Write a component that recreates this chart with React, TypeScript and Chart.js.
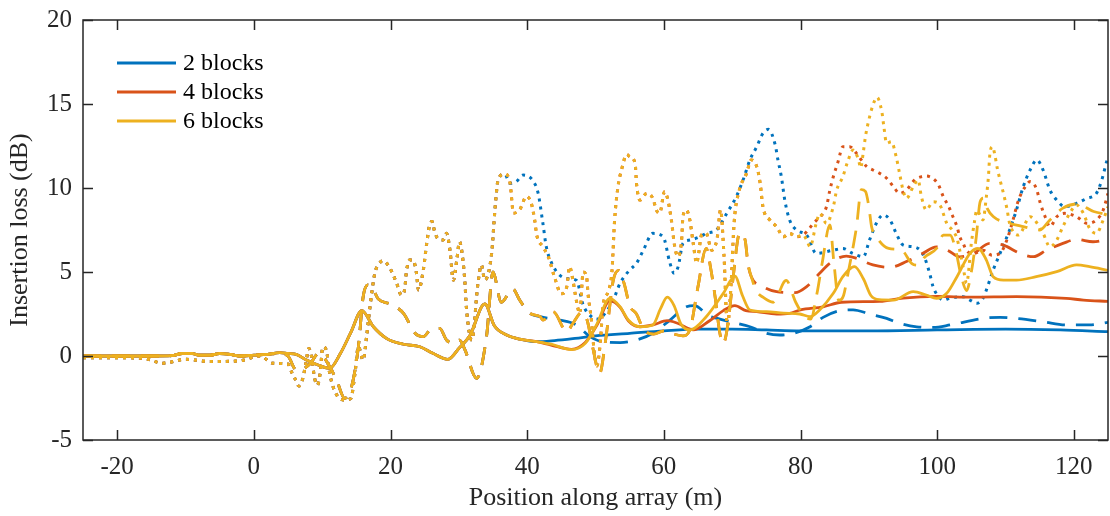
import React, { useEffect, useRef } from 'react';
import { Chart, registerables } from 'chart.js';

Chart.register(...registerables);

type Pt = [number, number];

// ---------- axis / legend text ----------
const xTickValues = [-20, 0, 20, 40, 60, 80, 100, 120];
const yTickValues = [-5, 0, 5, 10, 15, 20];
const legendLabels = ['2 blocks', '4 blocks', '6 blocks'];
const xTitle = 'Position along array (m)';
const yTitle = 'Insertion loss (dB)';

// ---------- solid curves ----------
const solidShared: Pt[] = [
  [-25, 0], [-15, 0], [-12, 0.02], [-10.5, 0.15], [-9, 0.15], [-8, 0.05], [-6.4, 0.05], [-5, 0.15],
  [-3.5, 0.1], [-2, 0], [0, 0.05], [2, 0.1], [3.8, 0.2], [5, 0.15], [6.2, 0.1], [7.7, -0.24],
  [9.5, -0.55], [11.1, -0.73], [12.6, 0.1], [14.2, 1.4], [15.8, 2.7], [17.5, 1.74], [19.4, 1.05],
  [21.9, 0.7], [24.3, 0.55], [26.2, 0.16], [28.4, -0.2], [30.1, 0.5], [31.6, 1.2], [33.8, 3.1],
  [35.2, 1.8], [37, 1.25], [38.9, 1.0], [41.4, 0.85],
];
const blueSolidLate: Pt[] = [
  [44, 0.92], [47, 1.05], [50, 1.2], [55, 1.35], [60, 1.5], [65, 1.6], [70, 1.6], [75, 1.55],
  [80, 1.5], [90, 1.5], [100, 1.55], [110, 1.6], [118, 1.55], [125, 1.45],
];
const orangeSolidLate: Pt[] = [
  [43.5, 0.65], [46.5, 0.4], [48.5, 0.8], [50.3, 1.9], [52.1, 3.3], [53.6, 2.9], [54.8, 2.1],
  [56.5, 1.74], [58.4, 1.85], [60.5, 2.1], [62, 1.95], [64.3, 1.55], [66.7, 2.1], [68.7, 2.7],
  [70.4, 3.0], [72, 2.7], [73.6, 2.64], [76.5, 2.5], [78.4, 2.54], [80, 2.75], [83.3, 2.93],
  [86, 3.2], [91.6, 3.25], [95, 3.45], [100, 3.55], [105, 3.5], [111.6, 3.53], [118.9, 3.43],
  [121.4, 3.33], [125, 3.25],
];
const yellowSolidLate: Pt[] = [
  [43.5, 0.7], [46.5, 0.38], [48.5, 0.75], [50.2, 1.9], [52.1, 3.43], [53.6, 2.93], [54.8, 2.14],
  [56.5, 1.74], [58.4, 1.85], [59.5, 2.8], [60.5, 3.5], [61.5, 3.0], [62.5, 1.9], [63.8, 1.55],
  [66.2, 2.34], [68.7, 3.73], [70.4, 4.76], [71.5, 3.6], [72.6, 2.74], [75, 2.64], [77.5, 2.55],
  [79.9, 2.5], [81.4, 2.34], [82.8, 2.74], [84.8, 3.73], [86.2, 4.72], [87.9, 5.32], [89.2, 4.6],
  [90.3, 3.6], [91.5, 3.35], [93.6, 3.33], [96.5, 3.83], [98.4, 3.63], [99.9, 3.43], [101.4, 3.73],
  [102.9, 4.72], [104.8, 6.11], [106, 6.4], [107.2, 5.71], [108.2, 4.72], [109.7, 4.52],
  [111.6, 4.52], [114.5, 4.72], [117.5, 5.02], [120.4, 5.42], [122.3, 5.32], [125, 5.1],
];

// ---------- dashed curves ----------
const dashedShared: Pt[] = [
  [-25, 0], [-15, 0], [-12, 0.02], [-10.5, 0.15], [-9, 0.15], [-8, 0.05], [-6.4, 0.05], [-5, 0.15],
  [-3.5, 0.1], [-2, 0], [0, 0.05], [2, 0.1], [3.8, 0.15], [5, 0.0], [6.2, -0.83], [7, -0.8],
  [8.2, -0.48], [9.5, 0.16], [11.1, -0.63], [12.1, -1.43], [13.3, -2.52], [14.3, -1.83], [15.3, 0.55],
  [16, 3.53], [16.7, 4.23], [17.5, 3.93], [18.2, 3.4], [19.9, 3.1], [21.9, 2.54], [23.6, 1.35],
  [24.8, 1.15], [25.8, 1.55], [27.2, 1.65], [28.2, 0.95], [29.2, 0.75], [30.1, 0.95], [30.9, 0.36],
  [32.6, -1.33], [34.05, 1.15], [35, 5.0], [36.2, 3.2], [37.9, 4.0], [38.9, 3.33], [40.4, 2.54],
  [41.9, 2.34],
];
const blueDashedLate: Pt[] = [
  [44.8, 2.14], [47.2, 1.85], [49.2, 1.15], [51, 0.85], [53.6, 0.8], [56, 0.95], [58.4, 1.35],
  [60.9, 2.14], [63.3, 2.93], [64.5, 3.0], [66.5, 2.4], [68.2, 2.2], [70.1, 2.0], [72.6, 1.74],
  [75, 1.35], [77, 1.25], [79, 1.35], [81.4, 1.74], [83.3, 2.3], [85.8, 2.7], [87.7, 2.75],
  [90.1, 2.5], [92.6, 2.24], [94.5, 1.95], [97, 1.74], [99.4, 1.7], [101.9, 1.85], [106.7, 2.24],
  [109.2, 2.3], [111.6, 2.24], [115.5, 2.04], [118.9, 1.85], [122.3, 1.85], [125, 2.0],
];
const dashedOrangeYellowMid: Pt[] = [
  [42.3, 2.14], [43.8, 2.64], [45.8, 1.45], [46.7, 1.95], [48, 2.6], [48.8, 2.1], [49.6, 0.5],
  [50.6, -1.03], [51.5, 1.0], [52.6, 4.5], [53.4, 5.1], [54.2, 4.3], [55, 3.0], [56, 2.5], [57, 1.6],
  [58.5, 1.3], [60, 1.5], [61.5, 1.3], [62.8, 1.2], [63.8, 1.55], [65, 4.13], [66.2, 6.41],
  [66.9, 5.12], [67.5, 3.53], [68.2, 1.35], [68.7, 0.75], [69.4, 1.95], [70.1, 4.52], [71.1, 7.3],
  [71.9, 6.9], [72.3, 5.52], [72.8, 4.72],
];
const orangeDashedLate: Pt[] = [
  [74.5, 4.13], [76.5, 3.83], [79.2, 3.77], [80.9, 4.13], [82.8, 4.92], [84.3, 5.52], [86.7, 5.95],
  [88.2, 5.81], [90.6, 5.42], [93.1, 5.28], [95.5, 5.62], [97.9, 6.11], [99.9, 6.5], [101.5, 6.3],
  [103.3, 5.9], [105.3, 6.1], [107.7, 6.7], [109.7, 6.6], [112.1, 6.11], [114.1, 5.91], [116, 6.3],
  [118.4, 6.7], [120.4, 6.94], [122.8, 6.8], [125, 6.95],
];
const yellowDashedLate: Pt[] = [
  [73.5, 3.9], [74.5, 3.5], [76, 3.2], [77.9, 4.5], [79.3, 3.2], [80.5, 2.4], [81.5, 2.2],
  [82.4, 3.7], [83.2, 5.6], [84.3, 7.8], [84.9, 5.5], [85.6, 3.3], [86.3, 3.6], [86.9, 4.8],
  [87.7, 6.5], [88.2, 7.7], [88.9, 9.9], [89.5, 9.8], [90, 8.9], [90.4, 7.7], [91.1, 7.1],
  [92.9, 6.4], [94.8, 6.3], [96.3, 5.5], [97.2, 5.4], [98.2, 5.9], [99.9, 6.4], [100.9, 7.2],
  [101.9, 7.2], [102.6, 6.5], [103.5, 4.8], [104.3, 3.9], [105, 5.0], [105.7, 7.0], [106.3, 9.2],
  [106.8, 9.4], [107.3, 8.8], [108.2, 8.3], [110.6, 7.9], [112.6, 7.7], [115, 7.5], [116.5, 8.1],
  [118.4, 8.8], [120.4, 9.05], [122.9, 8.6], [125, 8.4],
];

// ---------- dotted curves ----------
const dottedShared: Pt[] = [
  [-25, -0.1], [-20, -0.1], [-16, -0.15], [-13.3, -0.43], [-10, -0.2], [-6.4, -0.33], [-2, -0.28],
  [0.9, 0], [2.8, -0.43], [5, -0.48], [5.5, -0.93], [6, -1.33], [6.6, -1.79], [7.1, -1.43],
  [7.6, -0.48], [8.05, 0.45], [8.4, 0.06], [8.9, -1.33], [9.3, -1.73], [9.7, -1.03], [10.1, 0.55],
  [10.6, 0.36], [11.1, -1.03], [11.6, -1.83], [12.3, -2.42], [13.3, -2.62], [14.2, -2.52],
  [14.8, -1.03], [15.3, 0.55], [16, -0.24], [16.5, 1.15], [17, 2.93], [17.7, 4.92], [18.2, 5.42],
  [18.9, 5.67], [19.8, 5.32], [20.4, 4.82], [20.9, 4.33], [21.6, 3.63], [22.1, 4.03], [22.3, 4.92],
  [22.8, 5.71], [23.3, 5.71], [23.8, 4.92], [24.1, 3.93], [24.8, 5.12], [25.3, 6.71], [25.8, 7.9],
  [26.1, 8.0], [26.4, 7.5], [26.9, 7.0], [27.7, 6.9], [28.2, 7.3], [28.7, 6.3], [29.2, 4.52],
  [29.7, 5.71], [30.1, 6.8], [30.6, 5.71], [30.9, 4.33], [31.1, 2.93], [31.9, 0.95], [32.8, 4.33],
  [33.3, 5.42], [33.8, 4.52], [34.8, 6.1], [35.3, 8.79], [35.75, 10.48], [36.7, 10.83], [37.5, 10.28],
];
const blueDottedLate: Pt[] = [
  [38.4, 10.38], [39.4, 10.77], [40.9, 10.4], [41.6, 9.7], [42.3, 7.9], [42.8, 6.5], [43.6, 5.52],
  [44.8, 4.8], [46, 4.6], [47.2, 4.5], [48.2, 3.03], [49.4, 2.34], [50.5, 2.2], [51.5, 2.6],
  [52.6, 3.33], [53.6, 4.33], [55, 5.12], [56, 5.52], [57, 6.3], [58.4, 7.3], [59.9, 7.1],
  [60.9, 5.52], [61.5, 4.92], [62.1, 5.32], [62.8, 6.71], [63.8, 6.9], [65.3, 7.1], [66.2, 7.3],
  [67.7, 7.5], [69.2, 8.49], [70.6, 9.48], [71.6, 10.48], [72.6, 11.67], [73.6, 12.46], [74.5, 13.25],
  [75.3, 13.49], [76.3, 12.56], [76.7, 11.67], [77.2, 10.67], [77.7, 9.28], [78.4, 8.1], [79.4, 7.5],
  [80.9, 7.2], [82.3, 6.11], [84.8, 6.3], [86.2, 6.4], [87.7, 6.1], [89.2, 5.91], [90.1, 6.9],
  [91.1, 7.9], [92.1, 8.39], [93.1, 8.1], [94, 7.3], [95, 6.61], [96.5, 6.5], [97.5, 6.3],
  [98.2, 5.81], [98.9, 4.92], [99.4, 4.13], [100.2, 3.53], [100.9, 3.33], [101.9, 3.45], [103.8, 3.53],
  [104.8, 3.33], [105.8, 3.14], [106.7, 3.43], [107.2, 3.93], [108.2, 5.12], [109.2, 6.11],
  [110.6, 7.5], [111.6, 8.69], [112.6, 10.08], [113.6, 11.07], [114.6, 11.67], [115.5, 11.07],
  [116.5, 9.88], [117.5, 9.28], [118.7, 8.89], [120.4, 9.09], [121.9, 9.38], [123.3, 9.68],
  [124.1, 10.48], [124.8, 11.57], [125, 11.8],
];
const dottedOrangeYellowMid: Pt[] = [
  [38, 8.5], [38.9, 8.7], [39.9, 9.5], [40.6, 9.1], [41.1, 8.1], [41.4, 7.2], [42.3, 6.5], [43.1, 5.9],
  [44, 4.7], [45, 3.7], [45.8, 4.13], [46.2, 5.32], [46.7, 4.5], [47.2, 3.3], [47.7, 2.54], [48.2, 5.0],
  [48.7, 4.72], [48.9, 3.73], [49.4, 2.14], [49.8, 0.3], [50.2, -0.6], [50.7, 0.8], [51.1, 3.0],
  [51.8, 3.8], [52.4, 5.0], [52.8, 8.1], [53.3, 10.1], [53.8, 11.07], [54.6, 12.0], [55, 11.86],
  [55.8, 11.47], [56, 10.28], [56.5, 9.28], [57.5, 9.68], [58.4, 9.38], [58.9, 8.69], [59.4, 8.5],
  [60.1, 9.78], [60.6, 9.28], [61.1, 8.1], [61.6, 6.5], [62.1, 5.91], [62.6, 6.9], [62.8, 8.29],
  [63.3, 8.69], [63.8, 8.1], [64.3, 6.71], [64.8, 5.52], [65.1, 6.11], [65.5, 7.2], [66.2, 7.3],
  [67, 6.3], [67.8, 7.0], [68.3, 8.7], [68.8, 6.0], [69.3, 1.8], [69.8, 4.0], [70.3, 8.0], [71, 9.8],
  [72.1, 10.87], [72.8, 11.67], [73.6, 11.27], [74.1, 10.28], [74.5, 8.89], [75.5, 8.1], [76.5, 7.7],
  [77.5, 7.1], [78.4, 7.3], [79.4, 7.1], [80.4, 7.2],
];
const orangeDottedLate: Pt[] = [
  [80.9, 7.4], [81.9, 7.9], [83.3, 8.49], [83.8, 8.89], [84.3, 9.88], [84.8, 10.67], [85.5, 11.57],
  [86.2, 12.46], [87.2, 12.46], [88.2, 12.06], [88.9, 11.67], [89.7, 11.27], [90.6, 11.07],
  [91.6, 10.87], [92.6, 10.58], [93.6, 10.08], [94.5, 9.68], [95.5, 9.88], [96.7, 10.48],
  [97.7, 10.67], [98.4, 10.71], [99.4, 10.56], [100.2, 10.18], [100.9, 9.48], [101.7, 8.89],
  [102.2, 8.39], [102.9, 7.7], [103.3, 7.1], [103.8, 6.71], [104.3, 6.27], [105.3, 6.1], [106.7, 6.3],
  [108, 6.0], [109.2, 6.11], [110.2, 6.9], [111.1, 8.1], [111.9, 9.28], [112.9, 10.08], [113.6, 10.38],
  [114.5, 9.98], [115.1, 9.09], [115.8, 8.29], [116.5, 7.7], [117.5, 8.29], [118.7, 8.49],
  [120.4, 8.29], [121.9, 7.9], [123.3, 8.1], [124.3, 8.69], [125, 9.68],
];
const yellowDottedLate: Pt[] = [
  [80.9, 6.9], [81.4, 6.5], [82.3, 7.9], [82.8, 8.49], [83.8, 7.9], [84.8, 8.89], [85.3, 9.88],
  [86.2, 10.67], [86.9, 11.57], [87.7, 12.26], [88.5, 11.67], [88.8, 11.2], [89.2, 12.16],
  [89.5, 13.05], [90, 14.05], [90.6, 14.94], [91.2, 15.4], [91.9, 14.54], [92.2, 13.65], [92.6, 12.66],
  [93.3, 12.76], [94, 11.86], [94.5, 10.87], [95, 9.88], [95.5, 9.38], [96.5, 10.08], [97.2, 10.48],
  [97.7, 9.48], [98.4, 8.69], [99.4, 9.18], [100.4, 8.99], [101.4, 7.9], [102.2, 7.5], [102.9, 7.0],
  [103.3, 6.3], [103.8, 5.3], [104.3, 4.33], [105, 6.71], [105.5, 8.1], [105.8, 8.69], [106.7, 8.1],
  [107.2, 9.48], [107.5, 10.67], [107.7, 11.96], [108.1, 12.46], [108.4, 12.06], [108.8, 11.17],
  [109.2, 10.48], [109.7, 9.68], [110.2, 8.79], [110.6, 7.9], [111.9, 7.2], [113.6, 8.29], [115.5, 7.3],
  [116.5, 6.5], [117.5, 6.9], [118.4, 7.7], [119.4, 8.49], [120.4, 8.99], [121.4, 8.49], [122.3, 7.6],
  [123.3, 7.3], [124.3, 8.1], [125, 8.89],
];

// ---------- styles ----------
const BLUE = '#0072BD';
const ORANGE = '#D95319';
const YELLOW = '#EDB120';
const seriesColors = [BLUE, ORANGE, YELLOW];
const AXIS_COLOR = '#262626';
const FONT = "'Liberation Serif', 'Times New Roman', serif";
const SOLID: number[] = [];
const DASHED = [18, 11];
const DOTTED = [3, 5];

const toXY = (pts: Pt[]) => pts.map(([x, y]) => ({ x, y }));

const seriesDefs = [
  { color: BLUE, dash: SOLID, pts: [...solidShared, ...blueSolidLate] },
  { color: BLUE, dash: DASHED, pts: [...dashedShared, ...blueDashedLate] },
  { color: BLUE, dash: DOTTED, pts: [...dottedShared, ...blueDottedLate] },
  { color: ORANGE, dash: SOLID, pts: [...solidShared, ...orangeSolidLate] },
  { color: ORANGE, dash: DASHED, pts: [...dashedShared, ...dashedOrangeYellowMid, ...orangeDashedLate] },
  { color: ORANGE, dash: DOTTED, pts: [...dottedShared, ...dottedOrangeYellowMid, ...orangeDottedLate] },
  { color: YELLOW, dash: SOLID, pts: [...solidShared, ...yellowSolidLate] },
  { color: YELLOW, dash: DASHED, pts: [...dashedShared, ...dashedOrangeYellowMid, ...yellowDashedLate] },
  { color: YELLOW, dash: DOTTED, pts: [...dottedShared, ...dottedOrangeYellowMid, ...yellowDottedLate] },
];

const TICK_LEN = 10;

const framePlugin = {
  id: 'matlabFrame',
  afterDatasetsDraw(chart: any) {
    const { ctx, chartArea } = chart;
    const { left, right, top, bottom } = chartArea;
    const xs = chart.scales.x;
    const ys = chart.scales.y;
    ctx.save();
    ctx.strokeStyle = AXIS_COLOR;
    ctx.lineWidth = 1.5;
    ctx.setLineDash([]);
    ctx.strokeRect(left, top, right - left, bottom - top);
    ctx.beginPath();
    for (const v of xTickValues) {
      const px = Math.round(xs.getPixelForValue(v)) + 0.5;
      ctx.moveTo(px, bottom);
      ctx.lineTo(px, bottom - TICK_LEN);
      ctx.moveTo(px, top);
      ctx.lineTo(px, top + TICK_LEN);
    }
    for (const v of yTickValues) {
      const py = Math.round(ys.getPixelForValue(v)) + 0.5;
      ctx.moveTo(left, py);
      ctx.lineTo(left + TICK_LEN, py);
      ctx.moveTo(right, py);
      ctx.lineTo(right - TICK_LEN, py);
    }
    ctx.stroke();

    // legend (inside axes, top-left, no box)
    const lx0 = left + 34;
    const lx1 = left + 93;
    const tx = left + 100;
    const rowY = [top + 43, top + 72, top + 101];
    ctx.font = `24px ${FONT}`;
    ctx.textBaseline = 'middle';
    ctx.textAlign = 'left';
    legendLabels.forEach((label, i) => {
      ctx.strokeStyle = seriesColors[i];
      ctx.lineWidth = 2.8;
      ctx.beginPath();
      ctx.moveTo(lx0, rowY[i]);
      ctx.lineTo(lx1, rowY[i]);
      ctx.stroke();
      ctx.fillStyle = '#000000';
      ctx.fillText(label, tx, rowY[i] + 1);
    });
    ctx.restore();
  },
};

export default function App() {
  const canvasRef = useRef<HTMLCanvasElement | null>(null);

  useEffect(() => {
    document.body.style.margin = '0';
    const canvas = canvasRef.current;
    if (!canvas) return;
    const chart = new Chart(canvas, {
      type: 'line',
      data: {
        datasets: seriesDefs.map((s, i) => ({
          label: `series ${i}`,
          data: toXY(s.pts),
          borderColor: s.color,
          backgroundColor: s.color,
          borderWidth: s.dash === DOTTED ? 3 : 2.8,
          borderDash: s.dash,
          borderCapStyle: 'butt' as const,
          pointRadius: 0,
          fill: false,
          cubicInterpolationMode: 'monotone' as const,
          order: seriesDefs.length - i,
        })),
      },
      options: {
        responsive: false,
        animation: false,
        devicePixelRatio: 1,
        parsing: false,
        layout: { padding: { left: 0, top: 20, right: 2, bottom: 0 } },
        plugins: {
          legend: { display: false },
          tooltip: { enabled: false },
        },
        scales: {
          x: {
            type: 'linear',
            min: -25,
            max: 125,
            grid: { display: false, drawTicks: false },
            border: { display: false },
            afterBuildTicks: (scale: any) => {
              scale.ticks = xTickValues.map((v) => ({ value: v }));
            },
            afterFit: (scale: any) => {
              scale.height = 76;
              scale.paddingLeft = 0;
              scale.paddingRight = 0;
            },
            ticks: {
              autoSkip: false,
              maxRotation: 0,
              padding: 12,
              color: AXIS_COLOR,
              font: { family: FONT, size: 25 },
              callback: (v: any) => String(v),
            },
            title: {
              display: true,
              text: xTitle,
              color: AXIS_COLOR,
              font: { family: FONT, size: 26 },
              padding: { top: 0, bottom: 2 },
            },
          },
          y: {
            type: 'linear',
            min: -5,
            max: 20,
            grid: { display: false, drawTicks: false },
            border: { display: false },
            afterBuildTicks: (scale: any) => {
              scale.ticks = yTickValues.map((v) => ({ value: v }));
            },
            afterFit: (scale: any) => {
              scale.width = 83;
              scale.paddingTop = 0;
              scale.paddingBottom = 0;
            },
            ticks: {
              autoSkip: false,
              padding: 11,
              color: AXIS_COLOR,
              font: { family: FONT, size: 25 },
              callback: (v: any) => String(v),
            },
            title: {
              display: true,
              text: yTitle,
              color: AXIS_COLOR,
              font: { family: FONT, size: 26 },
              padding: { top: 5, bottom: 0 },
            },
          },
        },
      },
      plugins: [framePlugin],
    });
    return () => chart.destroy();
  }, []);

  return (
    <div style={{ width: 1110, height: 516, background: '#ffffff' }}>
      <canvas ref={canvasRef} width={1110} height={516} style={{ display: 'block' }} />
    </div>
  );
}
